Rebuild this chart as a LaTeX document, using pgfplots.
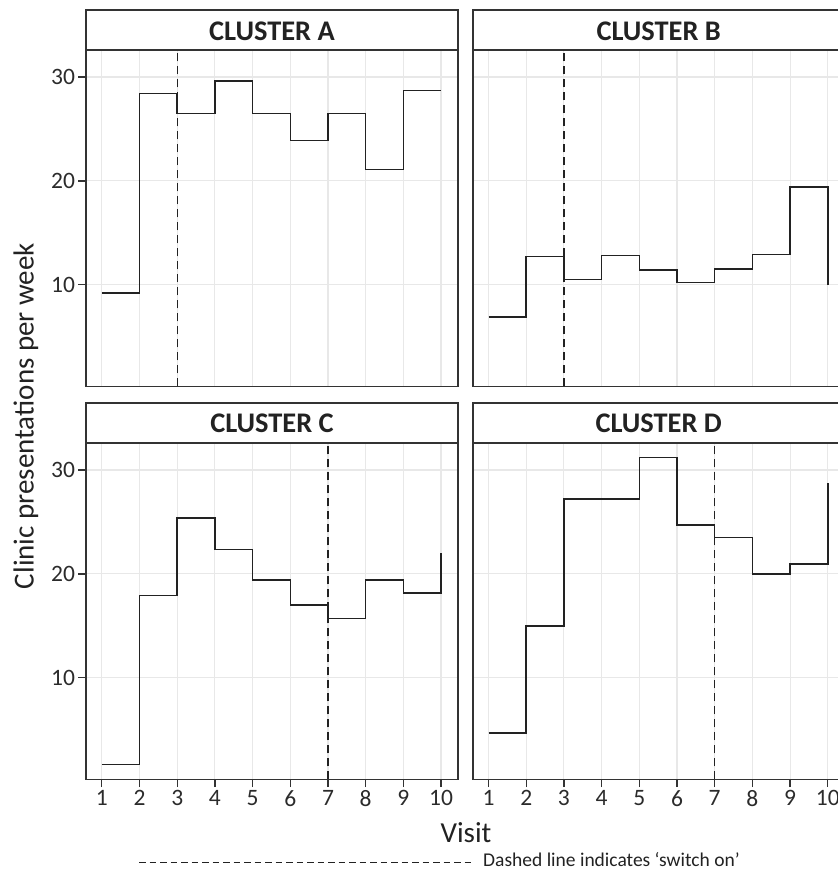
\documentclass[border=0pt]{standalone}
\usepackage{fontspec}
\setmainfont{Carlito}
\usepackage{pgfplots}
\usepackage{pgfplotstable}
\pgfplotsset{compat=1.18}
\definecolor{ink}{HTML}{222222}
\definecolor{frame}{HTML}{333333}
\definecolor{gridc}{HTML}{E8E8E8}
\definecolor{tickc}{HTML}{2B2B2B}

\pgfplotstableread{
x A B C D
1 9.2 6.9 1.65 4.7
2 28.4 12.7 17.9 15.0
3 26.5 10.5 25.4 27.2
4 29.6 12.8 22.35 27.2
5 26.5 11.4 19.4 31.2
6 23.9 10.2 17.0 24.7
7 26.5 11.5 15.7 23.5
8 21.1 12.9 19.4 20.0
9 28.7 19.4 18.15 20.95
10 28.7 10.0 22.0 28.7
}\datatable

\pgfplotsset{
  panel/.style={
    scale only axis, width=372pt, height=336.5pt,
    xmin=0.58, xmax=10.45, ymin=0.2, ymax=32.6,
    xtick={1,...,10}, ytick={10,20,30},
    grid=major, major grid style={draw=gridc, line width=1.1pt},
    axis line style={draw=frame, line width=1.6pt},
    tick align=outside, xtick pos=bottom, ytick pos=left,
    major tick length=7.5pt,
    tick style={draw=frame, line width=1.3pt},
    ticklabel style={font=\fontsize{23.5}{23.5}\selectfont, text=tickc},
    /pgf/number format/assume math mode=true,
    anchor=south west,
  },
  noxt/.style={xticklabels={}, xtick style={draw=none}},
  noyt/.style={yticklabels={}, ytick style={draw=none}},
  stepline/.style={const plot, draw=ink, line width=1.5pt, mark=none},
  switch/.style={draw=ink, line width=1.3pt, dash pattern=on 8pt off 5pt},
}

\begin{document}
\begin{tikzpicture}
\useasboundingbox (0pt,0pt) rectangle (838pt,871pt);
\clip (0pt,0pt) rectangle (838pt,871pt);

% Panel A
\begin{axis}[panel, noxt, at={(86pt,484.5pt)}]
\addplot[stepline] table[x=x,y=A]{\datatable};
\addplot[switch] coordinates {(3,0.2) (3,32.6)};
\end{axis}
% Panel B
\begin{axis}[panel, noxt, noyt, at={(472.7pt,484.5pt)}]
\addplot[stepline] table[x=x,y=B]{\datatable};
\addplot[switch] coordinates {(3,0.2) (3,32.6)};
\end{axis}
% Panel C
\begin{axis}[panel, at={(86pt,91.5pt)}]
\addplot[stepline] table[x=x,y=C]{\datatable};
\addplot[switch] coordinates {(7,0.2) (7,32.6)};
\end{axis}
% Panel D
\begin{axis}[panel, noyt, at={(472.7pt,91.5pt)}]
\addplot[stepline] table[x=x,y=D]{\datatable};
\addplot[switch] coordinates {(7,0.2) (7,32.6)};
\end{axis}

% strips
\begin{scope}[every node/.style={font=\fontsize{28.4}{30}\selectfont\bfseries, text=ink}]
\draw[frame, line width=1.6pt, fill=white] (86pt,821pt) rectangle (458pt,861pt);
\node at (272pt,840pt) {CLUSTER A};
\draw[frame, line width=1.6pt, fill=white] (472.7pt,821pt) rectangle (844.7pt,861pt);
\node at (658.7pt,840pt) {CLUSTER B};
\draw[frame, line width=1.6pt, fill=white] (86pt,428pt) rectangle (458pt,468pt);
\node at (272pt,447.5pt) {CLUSTER C};
\draw[frame, line width=1.6pt, fill=white] (472.7pt,428pt) rectangle (844.7pt,468pt);
\node at (658.7pt,447.5pt) {CLUSTER D};
\end{scope}

% axis titles
\node[font=\fontsize{29}{29}\selectfont, text=ink, rotate=90] at (26pt,455pt) {Clinic presentations per week};
\node[font=\fontsize{29}{29}\selectfont, text=ink] at (466pt,38pt) {Visit};

% legend
\draw[ink, line width=1pt, dash pattern=on 6.5pt off 4pt] (139pt,8.5pt) -- (472pt,8.5pt);
\node[anchor=base west, font=\fontsize{19.5}{19.5}\selectfont, text=ink, inner sep=0pt] at (483pt,5pt) {Dashed line indicates ‘switch on’};
\end{tikzpicture}
\end{document}
